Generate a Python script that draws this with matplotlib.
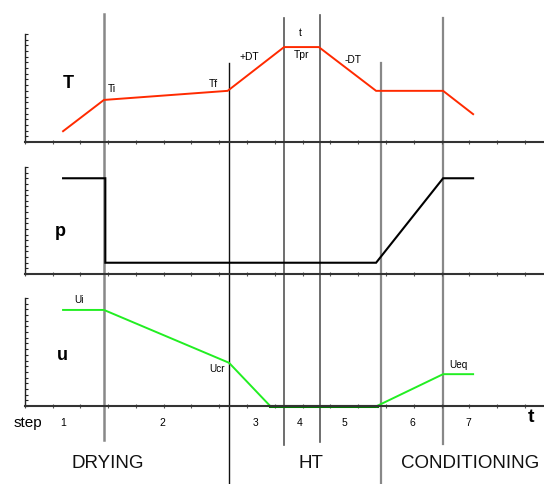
import matplotlib
matplotlib.use("Agg")
import matplotlib.pyplot as plt
from matplotlib.transforms import blended_transform_factory

plt.rcParams['font.family'] = ['Liberation Sans', 'DejaVu Sans']

# ---- data (schematic time units, arbitrary level units) ----
T_time = [1.38, 2.85, 7.3, 9.33, 10.58, 12.64, 15.05, 16.13]
T_val = [1.9, 7.4, 9.0, 16.7, 16.7, 9.0, 9.0, 4.9]

p_time = [1.38, 2.9, 2.9, 12.64, 15.05, 16.13]
p_val = [17.0, 17.0, 2.0, 2.0, 17.0, 17.0]

u_time = [1.38, 2.85, 7.35, 8.83]
u_val = [16.9, 16.9, 7.6, 0.0]
u_zero_time = [8.83, 12.67]
u_zero_val = [0.0, 0.0]
u_rise_time = [12.67, 15.05, 16.13]
u_rise_val = [0.0, 5.6, 5.6]

boundaries = [2.85, 7.35, 9.33, 10.62, 12.82, 15.05]
step_labels = ['1', '2', '3', '4', '5', '6', '7']
step_pos = [1.38, 4.95, 8.3, 9.9, 11.5, 13.95, 15.95]
phases = ['DRYING', 'HT', 'CONDITIONING']

W, H = 544, 484
fig = plt.figure(figsize=(W / 100, H / 100), dpi=100)

x0, s = 24.7, 27.8  # left spine px, px per time unit
xmax = (W - x0) / s

# overlay in pixel coordinates (behind the panels)
ov = fig.add_axes([0, 0, 1, 1])
ov.set_xlim(0, W)
ov.set_ylim(H, 0)
ov.axis('off')
ov.patch.set_alpha(0)
ov.set_zorder(0)


def panel(bottom_px, height_px):
    ax = fig.add_axes([x0 / W, 1 - bottom_px / H, (W - x0) / W, height_px / H])
    ax.set_zorder(2)
    ax.set_xlim(0, xmax)
    ax.set_ylim(0, 19)
    for side in ('top', 'right'):
        ax.spines[side].set_visible(False)
    ax.spines['left'].set_linewidth(1.0)
    ax.spines['left'].set_color('#222222')
    ax.spines['bottom'].set_linewidth(1.5)
    ax.spines['bottom'].set_color('#333333')
    ax.set_xticks(range(0, int(xmax) + 1))
    ax.set_yticks(range(0, 20))
    ax.tick_params(axis='x', direction='inout', length=3, width=0.8,
                   colors='#555555', labelbottom=False)
    ax.tick_params(axis='y', direction='in', length=2, width=0.8,
                   colors='#222222', labelleft=False)
    ax.patch.set_alpha(0)
    return ax


axT = panel(142, 108)
axp = panel(274, 107)
axu = panel(406, 108)

axT.plot(T_time, T_val, color='#ff2a00', lw=1.4, clip_on=False,
         solid_joinstyle='miter')
axp.plot(p_time, p_val, color='black', lw=1.5, clip_on=False,
         solid_joinstyle='miter')
axu.plot(u_time, u_val, color='#22ee22', lw=1.4, clip_on=False)
axu.plot(u_zero_time, u_zero_val, color='#007a00', lw=2.2, clip_on=False)
axu.plot(u_rise_time, u_rise_val, color='#22ee22', lw=1.4, clip_on=False)

trans = blended_transform_factory(axT.transData, ov.transData)
vstyles = [
    (14, 440, '#888888', 1.8),
    (63, 484, '#111111', 1.0),
    (18, 445, '#555555', 1.2),
    (15, 442, '#555555', 1.2),
    (63, 484, '#888888', 1.6),
    (18, 444, '#888888', 1.6),
]
for bx, (ytop, ybot, c, lw) in zip(boundaries, vstyles):
    ov.plot([bx, bx], [ytop, ybot], color=c, lw=lw, transform=trans,
            clip_on=False, zorder=1)

# panel labels
ov.text(68, 83, 'T', fontsize=13, fontweight='bold', ha='center', va='center')
ov.text(60, 232, 'p', fontsize=13, fontweight='bold', ha='center', va='center')
ov.text(62, 356, 'u', fontsize=13, fontweight='bold', ha='center', va='center')

# annotations
small = dict(fontsize=7.4, ha='center', va='center')
ov.text(112, 89, 'Ti', **small)
ov.text(213, 84, 'Tf', **small)
ov.text(249, 57, '+DT', **small)
ov.text(300, 33, 't', **small)
ov.text(302, 55, 'Tpr', **small)
ov.text(353, 60, '-DT', **small)
tiny = dict(fontsize=7.2, ha='center', va='center')
ov.text(79, 300, 'Ui', **tiny)
ov.text(217, 369, 'Ucr', **tiny)
ov.text(458, 365, 'Ueq', **tiny)

# step row
ov.text(28, 423, 'step', fontsize=11, ha='center', va='center')
for lab, xp in zip(step_labels, step_pos):
    ov.text(xp, 423, lab, fontsize=7.5, ha='center', va='center', transform=trans)
ov.text(531, 417, 't', fontsize=14, fontweight='bold', ha='center', va='center')

# phases
for lab, xp in zip(phases, [108, 311, 470]):
    ov.text(xp, 464, lab, fontsize=13.5, ha='center', va='center', color='#111111')

fig.savefig('out.png', dpi=100)
